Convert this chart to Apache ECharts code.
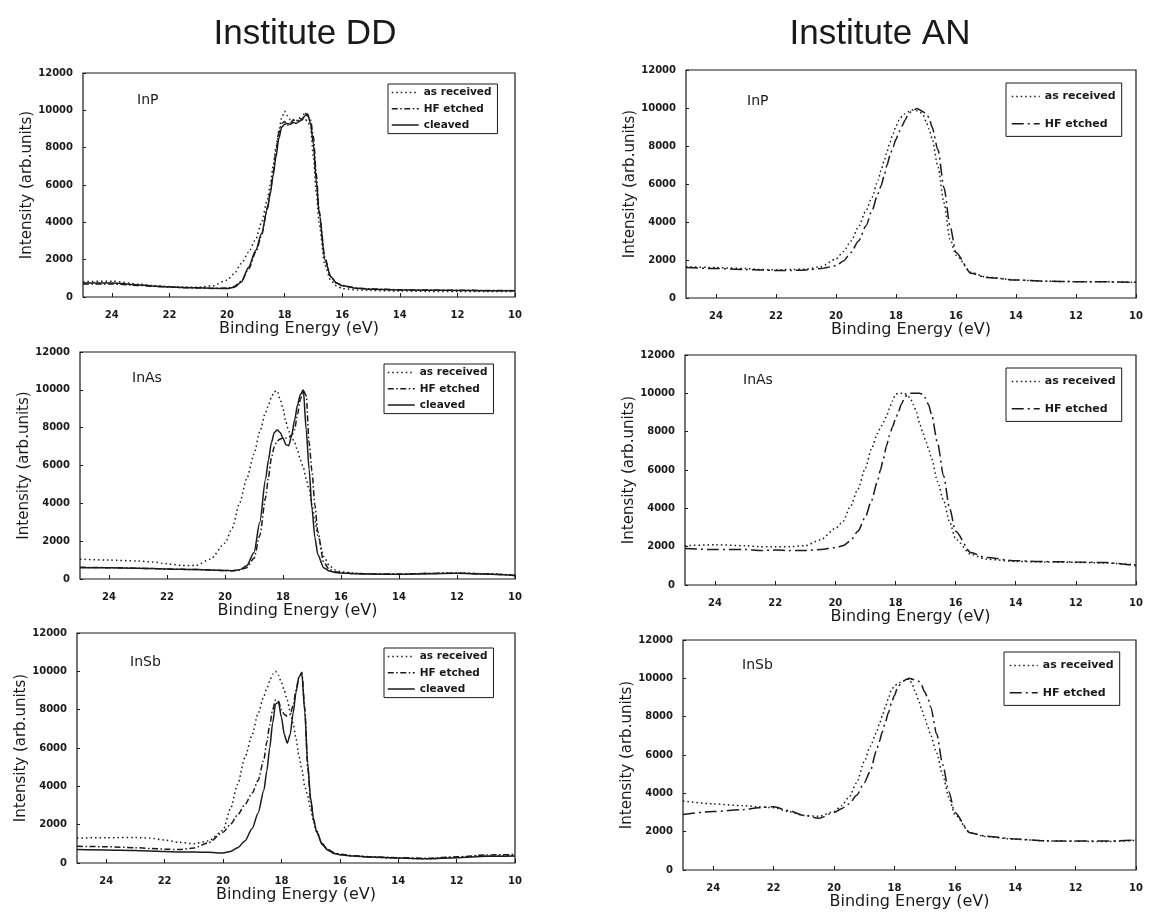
<!DOCTYPE html>
<html lang="en">
<head>
<meta charset="utf-8">
<title>Institute DD / Institute AN</title>
<script src="https://cdn.jsdelivr.net/npm/echarts@6/dist/echarts.min.js"></script>
<style>
  html, body { margin: 0; padding: 0; background: #fff; }
  #main { width: 1151px; height: 913px; }
</style>
</head>
<body>
<div id="main"></div>
<script type="text/javascript">
// binding energy grid (eV) shared by every curve
var energy = [25, 24, 23, 22.5, 22, 21.5, 21, 20.5, 20,
  19.75, 19.5, 19.25, 19, 18.8, 18.6,
  18.5, 18.4, 18.3, 18.2, 18.1, 18, 17.9, 17.8, 17.7, 17.6,
  17.5, 17.4, 17.3, 17.2, 17.1, 17, 16.9, 16.8,
  16.6, 16.4, 16.2, 16, 15.5, 15, 14, 13, 12, 11, 10];

// Institute DD - InP
var ddInP_received = [820, 850, 680, 600, 560, 530, 520, 600, 900,
  1250, 1800, 2400, 3100, 4000, 5200,
  6000, 7000, 8000, 8900, 9600, 9950, 9700, 9500, 9450, 9500,
  9450, 9500, 9550, 9400, 9100, 7500, 5600, 3900,
  1700, 900, 600, 450, 380, 350, 320, 300, 300, 300, 300];
var ddInP_etched = [700, 700, 620, 570, 530, 500, 480, 460, 480,
  560, 850, 1500, 2400, 3300, 4800,
  5600, 6700, 7800, 8800, 9300, 9400, 9200, 9300, 9500, 9400,
  9600, 9500, 9900, 9700, 9500, 8600, 6600, 4600,
  2100, 1100, 750, 620, 480, 430, 390, 370, 360, 350, 340];
var ddInP_cleaved = [750, 750, 640, 580, 540, 510, 490, 470, 450,
  520, 800, 1600, 2500, 3400, 4700,
  5500, 6500, 7500, 8500, 9100, 9250, 9300, 9250, 9350, 9300,
  9400, 9500, 9700, 9800, 9300, 8200, 6200, 4500,
  2000, 1100, 750, 600, 470, 420, 380, 360, 350, 340, 330];

// Institute DD - InAs
var ddInAs_received = [1050, 1000, 950, 900, 800, 720, 720, 1050, 1900,
  2700, 4000, 5300, 6600, 7800, 8800,
  9200, 9600, 9900, 9950, 9500, 9000, 8300, 7800, 7500, 7200,
  6800, 6300, 5900, 5300, 4700, 3900, 3100, 2300,
  1200, 700, 480, 380, 300, 270, 250, 300, 320, 280, 200];
var ddInAs_etched = [620, 600, 570, 550, 530, 510, 500, 480, 450,
  440, 470, 600, 1100, 2300, 4300,
  5400, 6400, 7000, 7300, 7400, 7450, 7450, 7500, 7600, 7900,
  8700, 9500, 9950, 9700, 7200, 5700, 3900, 2500,
  900, 500, 380, 330, 290, 270, 260, 290, 310, 270, 190];
var ddInAs_cleaved = [600, 590, 570, 550, 530, 510, 500, 480, 450,
  440, 490, 700, 1400, 3000, 5300,
  6300, 7200, 7750, 7880, 7750, 7450, 7100, 7050, 7600, 8400,
  9200, 9750, 10000, 7900, 5800, 3700, 2200, 1300,
  600, 420, 350, 320, 280, 260, 250, 280, 300, 260, 180];

// Institute DD - InSb
var ddInSb_received = [1300, 1320, 1330, 1300, 1200, 1080, 1000, 1150, 1700,
  2800, 4100, 5500, 6700, 7800, 8700,
  9100, 9500, 9850, 10000, 9800, 9400, 9000, 8500, 7900, 7300,
  6500, 5600, 4900, 4000, 3500, 2800, 2200, 1700,
  1000, 700, 520, 430, 350, 300, 250, 220, 300, 380, 400];
var ddInSb_etched = [870, 850, 800, 760, 720, 700, 780, 1050, 1600,
  2000, 2500, 3050, 3650, 4300, 5400,
  6300, 7200, 8000, 8500, 8450, 8000, 7750, 7650, 7750, 8200,
  9000, 9700, 9950, 8100, 5000, 3300, 2300, 1650,
  1000, 700, 540, 460, 380, 330, 280, 250, 320, 420, 440];
var ddInSb_cleaved = [700, 680, 650, 620, 600, 580, 570, 560, 520,
  600, 790, 1150, 1800, 2600, 3800,
  4800, 6000, 7300, 8300, 8400, 7600, 6700, 6250, 6700, 7800,
  8900, 9700, 9900, 7900, 5200, 3400, 2300, 1650,
  950, 650, 500, 430, 360, 310, 260, 220, 280, 350, 370];

// Institute AN - InP
var anInP_received = [1650, 1600, 1550, 1500, 1480, 1500, 1520, 1650, 2050,
  2450, 3000, 3750, 4600, 5300, 6200,
  6700, 7200, 7700, 8200, 8650, 9050, 9350, 9550, 9700, 9800,
  9880, 9900, 9850, 9780, 9650, 9300, 8900, 8400,
  6900, 5000, 3100, 2250, 1350, 1100, 950, 880, 860, 850, 830];
var anInP_etched = [1600, 1550, 1500, 1480, 1450, 1450, 1480, 1550, 1700,
  1950, 2400, 3000, 3800, 4600, 5500,
  5900, 6400, 7000, 7500, 7950, 8350, 8750, 9050, 9350, 9650,
  9800, 9900, 9980, 9900, 9800, 9700, 9500, 9000,
  7800, 5800, 3800, 2400, 1300, 1080, 950, 880, 860, 850, 830];

// Institute AN - InAs
var anInAs_received = [2050, 2100, 2050, 2000, 2000, 2000, 2050, 2350, 2950,
  3300, 4100, 5000, 6100, 7100, 7900,
  8200, 8500, 8800, 9200, 9600, 9950, 10000, 10000, 10000, 9900,
  9700, 9400, 9000, 8450, 8000, 7550, 7100, 6600,
  5400, 4400, 3300, 2400, 1600, 1350, 1230, 1200, 1180, 1150, 1050];
var anInAs_etched = [1900, 1850, 1850, 1800, 1820, 1800, 1800, 1850, 1950,
  2050, 2300, 2800, 3550, 4400, 5400,
  6000, 6600, 7250, 7800, 8250, 8650, 9050, 9450, 9750, 9950,
  10000, 10000, 10000, 10000, 9950, 9750, 9400, 8900,
  7400, 5700, 4000, 2800, 1700, 1430, 1270, 1220, 1200, 1170, 1000];

// Institute AN - InSb
var anInSb_received = [3600, 3450, 3350, 3300, 3250, 3050, 2850, 2800, 3050,
  3350, 3800, 4550, 5650, 6450, 7150,
  7600, 8050, 8500, 8950, 9400, 9600, 9700, 9800, 9880, 9950,
  9950, 9650, 9250, 8850, 8400, 7950, 7500, 7050,
  6100, 4950, 3800, 2900, 1950, 1750, 1600, 1520, 1500, 1480, 1550];
var anInSb_etched = [2900, 3050, 3150, 3250, 3300, 3100, 2850, 2700, 3000,
  3200, 3450, 3900, 4550, 5150, 6200,
  6700, 7200, 7700, 8200, 8700, 9100, 9500, 9700, 9850, 9950,
  10000, 9950, 9900, 9850, 9650, 9300, 9000, 8500,
  7100, 5500, 4100, 3000, 1950, 1770, 1620, 1520, 1510, 1510, 1560];

var ink = '#1a1a1a';

var dashes = {
  'as received': [1.5, 3],
  'HF etched DD': [6, 2.5, 1.5, 2.5],
  'HF etched AN': [12, 4, 2, 4],
  'cleaved': 'solid'
};

// layout of the six panels: grid [left, top, width, height]
var panels = [
  { inst: 'DD', label: 'InP', grid: [83, 73, 432, 224], labelAt: [137, 100], legendAt: [388, 84],
    curves: [['as received', ddInP_received], ['HF etched', ddInP_etched], ['cleaved', ddInP_cleaved]] },
  { inst: 'AN', label: 'InP', grid: [686, 70, 450, 228], labelAt: [747, 101], legendAt: [1006, 83],
    curves: [['as received', anInP_received], ['HF etched', anInP_etched]] },
  { inst: 'DD', label: 'InAs', grid: [80, 352, 435, 227], labelAt: [132, 378], legendAt: [384, 364],
    curves: [['as received', ddInAs_received], ['HF etched', ddInAs_etched], ['cleaved', ddInAs_cleaved]] },
  { inst: 'AN', label: 'InAs', grid: [685, 355, 451, 230], labelAt: [743, 380], legendAt: [1006, 368],
    curves: [['as received', anInAs_received], ['HF etched', anInAs_etched]] },
  { inst: 'DD', label: 'InSb', grid: [77, 633, 438, 230], labelAt: [130, 662], legendAt: [384, 648],
    curves: [['as received', ddInSb_received], ['HF etched', ddInSb_etched], ['cleaved', ddInSb_cleaved]] },
  { inst: 'AN', label: 'InSb', grid: [683, 640, 453, 230], labelAt: [742, 665], legendAt: [1004, 652],
    curves: [['as received', anInSb_received], ['HF etched', anInSb_etched]] }
];

var grids = [], xAxes = [], yAxes = [], series = [], legends = [];
var graphics = [
  { type: 'text', x: 305, y: 34, style: { text: 'Institute DD', font: '35px "Liberation Sans", Arial, sans-serif',
      fill: ink, align: 'center', verticalAlign: 'middle', textAlign: 'center', textVerticalAlign: 'middle' } },
  { type: 'text', x: 880, y: 34, style: { text: 'Institute AN', font: '35px "Liberation Sans", Arial, sans-serif',
      fill: ink, align: 'center', verticalAlign: 'middle', textAlign: 'center', textVerticalAlign: 'middle' } }
];

var tickFont = { fontFamily: 'DejaVu Sans', fontWeight: 'bold', fontSize: 10, color: ink };
var plain = function (v) { return String(v); };

panels.forEach(function (p, i) {
  grids.push({
    left: p.grid[0], top: p.grid[1], width: p.grid[2], height: p.grid[3],
    show: true, borderColor: ink, borderWidth: 1.2, backgroundColor: 'transparent',
    containLabel: false, outerBoundsMode: 'none'
  });
  xAxes.push({
    type: 'value', gridIndex: i, min: 10, max: 25, interval: 2, inverse: true,
    name: 'Binding Energy (eV)', nameLocation: 'middle', nameGap: 24,
    nameTextStyle: { fontFamily: 'DejaVu Sans', fontSize: 16, color: ink },
    axisLine: { show: false },
    axisTick: { show: true, inside: true, length: 4, lineStyle: { color: ink } },
    axisLabel: Object.assign({ margin: 13, showMaxLabel: false, formatter: plain }, tickFont),
    splitLine: { show: false }
  });
  yAxes.push({
    type: 'value', gridIndex: i, min: 0, max: 12000, interval: 2000,
    name: 'Intensity (arb.units)', nameLocation: 'middle', nameGap: 47,
    nameTextStyle: { fontFamily: 'DejaVu Sans', fontSize: 15, color: ink },
    axisLine: { show: false },
    axisTick: { show: true, inside: true, length: 3, lineStyle: { color: ink } },
    axisLabel: Object.assign({ margin: 10, formatter: plain }, tickFont),
    splitLine: { show: false }
  });

  var names = [];
  p.curves.forEach(function (c) {
    var name = c[0] + '|' + i;
    names.push(name);
    var dash = c[0] === 'HF etched' ? dashes['HF etched ' + p.inst] : dashes[c[0]];
    series.push({
      name: name, type: 'line', xAxisIndex: i, yAxisIndex: i,
      data: energy.map(function (e, k) { return [e, c[1][k]]; }),
      symbol: 'none', smooth: 0.25, smoothMonotone: 'x',
      lineStyle: { color: ink, width: 1.5, type: dash },
      itemStyle: { color: ink },
      z: 3
    });
  });

  var dd = p.inst === 'DD';
  legends.push({
    orient: 'vertical', align: 'left',
    left: p.legendAt[0], top: p.legendAt[1],
    data: names,
    formatter: function (n) { return n.split('|')[0]; },
    selectedMode: false,
    itemWidth: dd ? 27 : 28, itemHeight: 14, itemGap: dd ? 5 : 16,
    padding: dd ? [3, 6, 3, 3] : [8, 6, 7, 5],
    borderColor: ink, borderWidth: 1, borderRadius: 0,
    backgroundColor: '#fff',
    itemStyle: { opacity: 0 },
    lineStyle: { width: 1.5 },
    textStyle: { fontFamily: 'DejaVu Sans', fontWeight: 'bold', fontSize: dd ? 10.5 : 11, color: ink }
  });

  graphics.push({
    type: 'text', x: p.labelAt[0], y: p.labelAt[1],
    style: { text: p.label, font: '14px "DejaVu Sans", sans-serif', fill: ink,
      align: 'left', verticalAlign: 'middle', textAlign: 'left', textVerticalAlign: 'middle' }
  });
});

var chart = echarts.init(document.getElementById('main'));
chart.setOption({
  animation: false,
  backgroundColor: '#fff',
  textStyle: { fontFamily: 'DejaVu Sans' },
  grid: grids,
  xAxis: xAxes,
  yAxis: yAxes,
  legend: legends,
  graphic: graphics,
  series: series
});
</script>
</body>
</html>
